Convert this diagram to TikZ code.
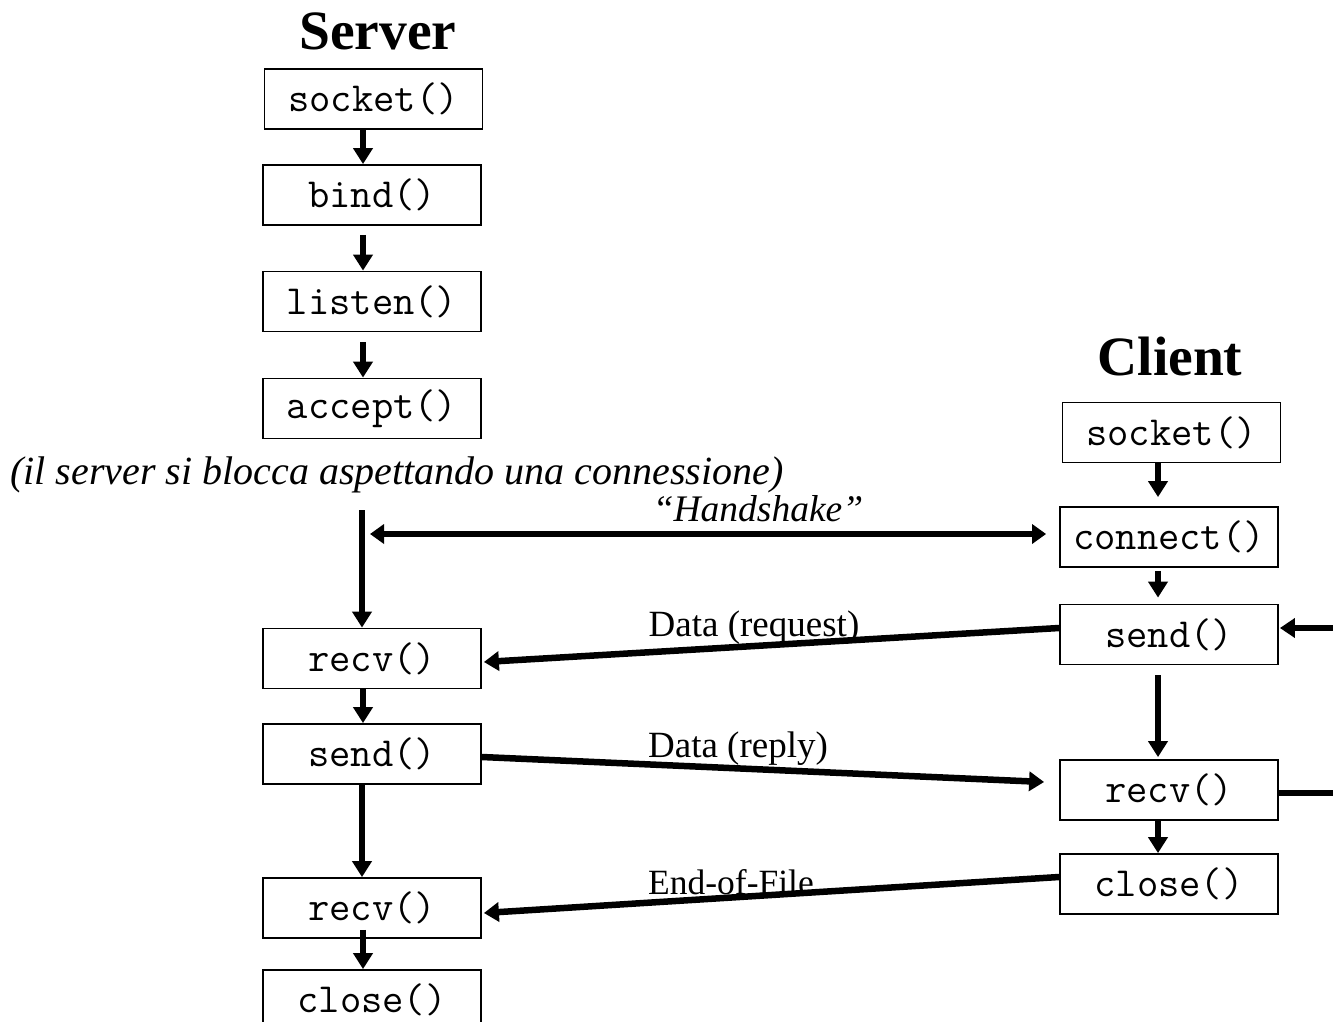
\documentclass[tikz,border=0pt]{standalone}
\usepackage{fontspec}
\setmainfont{Liberation Serif}
\usetikzlibrary{arrows.meta}
\begin{document}
\begin{tikzpicture}[x=1pt,y=-1pt,
  fn/.style={draw,line width=1.8pt,minimum width=218pt,minimum height=60pt,inner sep=0pt,
    font=\fontsize{41.4}{44}\ttfamily},
  title/.style={font=\fontsize{55.5}{60}\selectfont\bfseries,inner sep=0pt,anchor=base},
  lbl/.style={font=\fontsize{37}{40}\selectfont,inner sep=0pt,anchor=base},
  flow/.style={line width=6.5pt,-{Triangle[width=19pt,length=16pt]}},
  msg/.style={line width=6.5pt,-{Triangle[width=19pt,length=15pt]}},
  plain/.style={line width=6.5pt}]
\useasboundingbox (0,0) rectangle (1333,1022);
\clip (0,0) rectangle (1333,1022);
% titles
\node[title] (srvt) at (378,50) {Server};
\node[title] (clit) at (1170,375) {Client};
% server column
\node[fn] (s1) at (373.5,99) {socket()};
\node[fn] (s2) at (372,195) {bind()};
\node[fn] (s3) at (372,301.5) {listen()};
\node[fn] (s4) at (372,408.5) {accept()};
\node[fn] (s5) at (372,658.5) {recv()};
\node[fn] (s6) at (372,754) {send()};
\node[fn] (s7) at (372,908) {recv()};
\node[fn] (s8) at (372,1000) {close()};
% client column
\node[fn] (c1) at (1171.5,432.5) {socket()};
\node[fn] (c2) at (1169,537) {connect()};
\node[fn] (c3) at (1169,634.5) {send()};
\node[fn] (c4) at (1169,790) {recv()};
\node[fn] (c5) at (1169,884) {close()};
% note
\node[lbl,anchor=base west,font=\fontsize{40}{44}\selectfont\itshape] (note) at (10,484)
  {(il server si blocca aspettando una connessione)};
% server flow
\draw[flow] (s1.south -| 363,0) -- (s2.north -| 363,0);
\draw[flow] ([yshift=-9pt]s2.south -| 363,0) -- (s3.north -| 363,0);
\draw[flow] ([yshift=-10pt]s3.south -| 363,0) -- (s4.north -| 363,0);
\coordinate (wait) at (362,510);
\draw[flow] (wait) -- (s5.north -| wait);
\draw[flow] (s5.south -| 363,0) -- (s6.north -| 363,0);
\draw[flow] (s6.south -| 362,0) -- (s7.north -| 362,0);
\draw[flow] ([yshift=9pt]s7.south -| 363,0) -- (s8.north -| 363,0);
% client flow
\draw[flow] (c1.south -| 1158,0) -- ([yshift=9pt]c2.north -| 1158,0);
\draw[flow] ([yshift=-3pt]c2.south -| 1158,0) -- ([yshift=6pt]c3.north -| 1158,0);
\draw[flow] ([yshift=-10pt]c3.south -| 1158,0) -- ([yshift=2pt]c4.north -| 1158,0);
\draw[flow] (c4.south -| 1158,0) -- (c5.north -| 1158,0);
% handshake
\coordinate (hs) at (370,534);
\draw[line width=6.5pt,{Triangle[width=19pt,length=14pt]}-{Triangle[width=19pt,length=14pt]}]
  (hs) -- ([xshift=-13pt]c2.west |- hs);
\node[lbl,font=\fontsize{37.5}{40}\selectfont\itshape] (hsl) at (758,521) {“Handshake”};
% messages
\draw[msg] ([yshift=6.5pt]c3.west) -- ([xshift=2pt,yshift=-3.5pt]s5.east);
\node[lbl] (dreq) at (754,636) {Data (request)};
\draw[msg] ([yshift=-3pt]s6.east) -- ([xshift=-15pt,yshift=8pt]c4.west);
\node[lbl] (drep) at (738,757) {Data (reply)};
\draw[msg] ([yshift=7pt]c5.west) -- ([xshift=2pt,yshift=-5pt]s7.east);
\node[lbl,font=\fontsize{35.5}{40}\selectfont] (eof) at (731,894) {End-of-File};
% loop at right
\coordinate (rin) at (1340,628);
\coordinate (rout) at (1340,793);
\draw[msg] (rin) -- ([xshift=1pt]c3.east |- rin);
\draw[plain] (c4.east |- rout) -- (rout);
\end{tikzpicture}
\end{document}
